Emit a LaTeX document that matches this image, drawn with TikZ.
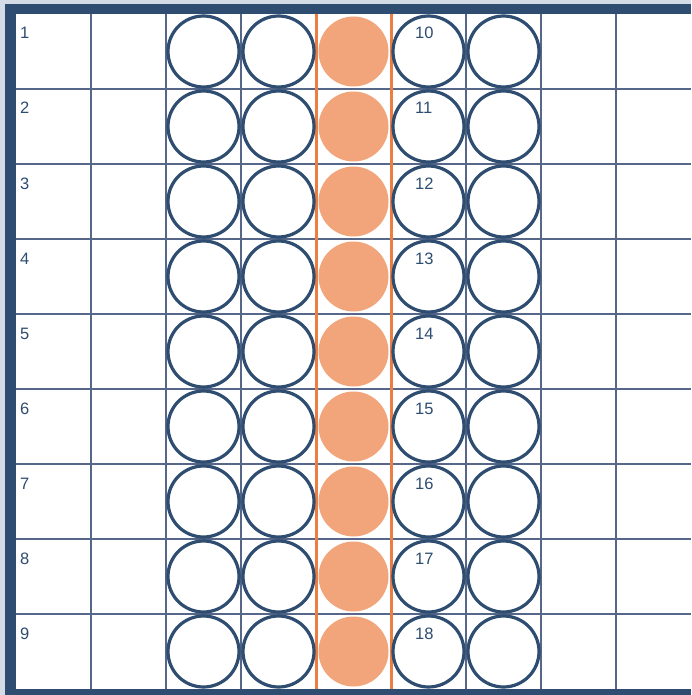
\documentclass[tikz,border=0pt]{standalone}
\usepackage{fontspec}
\setmainfont{Liberation Sans}
\definecolor{navy}{HTML}{2E4D70}
\definecolor{gridc}{HTML}{56678A}
\definecolor{rust}{HTML}{EC7E44}
\definecolor{peach}{HTML}{F2A57A}
\definecolor{haze}{HTML}{D6DCE6}

\begin{document}
\begin{tikzpicture}[
    x=1pt, y=-1pt,
    gridline/.style={draw=gridc, line width=2.8pt},
    railline/.style={draw=rust, line width=3pt},
    ring/.style={circle, draw=navy, line width=3.2pt, fill=white, minimum size=71pt, inner sep=0pt},
    dot/.style={circle, fill=peach, minimum size=70pt, inner sep=0pt},
    lbl/.style={anchor=base west, inner sep=0pt, text=navy, font=\fontsize{16.5}{16.5}\selectfont}
]
% frame and background
\useasboundingbox (0,0) rectangle (691,695);
\fill[haze] (0,0) rectangle (691,695);
\fill[navy] (5,4) rectangle (691,695);
\fill[white] (16,14) rectangle (691,689);

% grid
\foreach \i in {1,...,8} {
  \draw[gridline] (16+75*\i,14) -- (16+75*\i,689);
  \draw[gridline] (16,14+75*\i) -- (691,14+75*\i);
}
\draw[railline] (316,14) -- (316,689);
\draw[railline] (391,14) -- (391,689);

% circles
\foreach \r in {1,...,9} {
  \foreach \c in {3,4,6,7}
    \node[ring] (ring-\c-\r) at (16+75*\c-37.5,14+75*\r-37.5) {};
  \node[dot] (dot-\r) at (16+75*5-37.5,14+75*\r-37.5) {};
}

% row numbers
\foreach \r [evaluate=\r as \n using int(\r+9)] in {1,...,9} {
  \node[lbl] (left-\r) at (20,14+75*\r-50) {\r};
  \node[lbl] (right-\r) at (415,14+75*\r-50) {\n};
}
\end{tikzpicture}
\end{document}
